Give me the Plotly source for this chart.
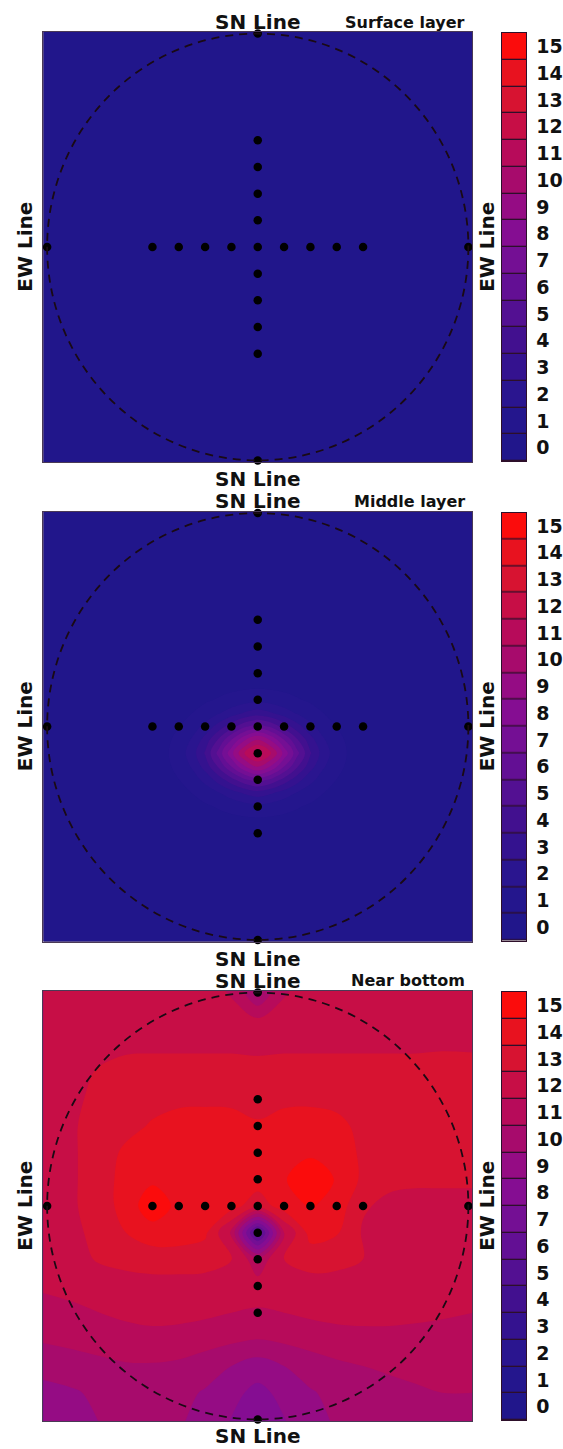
import plotly.graph_objects as go

# ---------------------------------------------------------------- data
# colour levels 0..15 (discrete legend)
levels = list(range(16))
level_colors = [
    "#21168b", "#24168d", "#2a158f", "#34128f", "#42108f", "#531092",
    "#630f94", "#740f94", "#850d92", "#950c84", "#a70b6c", "#b70b5a",
    "#c70e46", "#d71331", "#e8121f", "#fb0c0c",
]

# station layout along the two survey lines
arm_offsets = [-4, -3, -2, -1, 0, 1, 2, 3, 4]
rim_radius = 8

panel_titles = ["Surface layer", "Middle layer", "Near bottom"]

# surface layer: uniform field
surf_x = [-8.2, 8.2]
surf_y = [-8.2, 8.2]
surf_z = [[0, 0], [0, 0]]

# middle layer: a single local maximum just south of the crossing
# rows listed north (top) to south (bottom)
mid_x = [-8.2, -3.5, -3, -2.5, -2, -1.5, -1, -0.5, 0, 0.5, 1, 1.5, 2, 2.5, 3, 3.5, 8.2]
mid_y = [8.2, 1.5, 1, 0.5, 0, -0.5, -1, -1.5, -2, -2.5, -3, -3.5, -8.2]
mid_z = [
    [0, 0, 0, 0, 0, 0, 0, 0, 0, 0, 0, 0, 0, 0, 0, 0, 0],
    [0, 0.01, 0.03, 0.06, 0.11, 0.17, 0.25, 0.32, 0.36, 0.32, 0.25, 0.17, 0.11, 0.06, 0.03, 0.01, 0],
    [0, 0.04, 0.1, 0.2, 0.36, 0.58, 0.82, 1.06, 1.2, 1.06, 0.82, 0.58, 0.36, 0.2, 0.1, 0.04, 0],
    [0, 0.09, 0.24, 0.5, 0.9, 1.4, 2.0, 2.6, 3.0, 2.6, 2.0, 1.4, 0.9, 0.5, 0.24, 0.09, 0],
    [0, 0.18, 0.48, 1.0, 1.8, 2.9, 4.1, 5.3, 6.0, 5.3, 4.1, 2.9, 1.8, 1.0, 0.48, 0.18, 0],
    [0, 0.29, 0.77, 1.6, 2.9, 4.6, 6.5, 8.4, 9.6, 8.4, 6.5, 4.6, 2.9, 1.6, 0.77, 0.29, 0],
    [0, 0.36, 0.96, 2.0, 3.6, 5.8, 8.2, 10.6, 12.0, 10.6, 8.2, 5.8, 3.6, 2.0, 0.96, 0.36, 0],
    [0, 0.29, 0.77, 1.6, 2.9, 4.6, 6.5, 8.4, 9.6, 8.4, 6.5, 4.6, 2.9, 1.6, 0.77, 0.29, 0],
    [0, 0.18, 0.48, 1.0, 1.8, 2.9, 4.1, 5.3, 6.0, 5.3, 4.1, 2.9, 1.8, 1.0, 0.48, 0.18, 0],
    [0, 0.09, 0.24, 0.5, 0.9, 1.4, 2.0, 2.6, 3.0, 2.6, 2.0, 1.4, 0.9, 0.5, 0.24, 0.09, 0],
    [0, 0.04, 0.1, 0.2, 0.36, 0.58, 0.82, 1.06, 1.2, 1.06, 0.82, 0.58, 0.36, 0.2, 0.1, 0.04, 0],
    [0, 0.01, 0.03, 0.06, 0.11, 0.17, 0.25, 0.32, 0.36, 0.32, 0.25, 0.17, 0.11, 0.06, 0.03, 0.01, 0],
    [0, 0, 0, 0, 0, 0, 0, 0, 0, 0, 0, 0, 0, 0, 0, 0, 0],
]

# near bottom: gridded field, rows listed north (top) to south (bottom)
bot_x = [-8.2, -7, -6, -5, -4, -3, -2, -1, 0, 1, 2, 3, 4, 5, 6, 7, 8.2]
bot_y = [8.2, 7, 6, 5, 4, 3, 2, 1, 0, -1, -2, -3, -4, -5, -6, -7, -8.2]
bot_z = [
    [12, 12, 12, 12, 12, 12, 11.9, 11.3, 9.0, 11.3, 11.9, 12, 12, 12, 12, 12, 12],
    [12, 12, 12, 12, 12, 12, 12, 11.9, 11.6, 11.9, 12, 12, 12, 12, 12, 12, 12],
    [12, 12.1, 12.2, 12.3, 12.3, 12.3, 12.3, 12.3, 12.2, 12.3, 12.3, 12.3, 12.3, 12.3, 12.3, 12.4, 12.4],
    [12, 12.2, 12.6, 12.9, 13, 13, 13, 13, 13, 13, 13, 13, 13, 13, 13, 12.9, 12.8],
    [12, 12.3, 12.8, 13.1, 13.2, 13.3, 13.3, 13.3, 13.2, 13.3, 13.3, 13.2, 13.1, 13, 13, 12.9, 12.8],
    [12, 12.4, 13, 13.2, 13.6, 13.9, 14, 13.9, 13.6, 13.9, 14, 13.8, 13.2, 13.1, 13, 12.9, 12.8],
    [12, 12.4, 13, 13.7, 14, 14.1, 14.1, 14, 13.9, 14.1, 14.3, 14.1, 13.3, 13.1, 13, 12.9, 12.8],
    [12, 12.4, 13, 13.9, 14.3, 14.2, 14.1, 14, 14, 14.4, 15.3, 14.4, 13.3, 12.7, 12.65, 12.65, 12.6],
    [12, 12.4, 13, 13.9, 15.2, 14.2, 14, 13.9, 12.9, 14, 14.6, 14.1, 12.6, 12.3, 12.2, 12.2, 12.3],
    [12, 12.3, 12.8, 13.5, 14, 14, 13.7, 11.3, 4.5, 11.4, 13.9, 13.6, 12.4, 12.2, 12.1, 12.1, 12.2],
    [12, 12.2, 12.6, 12.8, 13, 13, 12.9, 12.6, 10.8, 12.5, 12.9, 12.8, 12.5, 12.2, 12.1, 12, 12],
    [11.6, 11.8, 12, 12.1, 12.1, 12.1, 12.1, 12, 11.9, 12, 12.1, 12.1, 12.1, 12, 12, 11.9, 11.9],
    [11.2, 11.3, 11.5, 11.7, 11.8, 11.8, 11.7, 11.5, 11.4, 11.5, 11.7, 11.8, 11.8, 11.8, 11.7, 11.6, 11.5],
    [10.6, 10.8, 11, 11.1, 11.2, 11.1, 10.9, 10.7, 10.5, 10.7, 10.9, 11.1, 11.2, 11.2, 11.2, 11.2, 11.1],
    [9.8, 10, 10.2, 10.4, 10.4, 10.3, 10, 9.5, 9.0, 9.5, 10, 10.3, 10.5, 10.6, 10.7, 10.7, 10.7],
    [9.2, 9.4, 9.7, 9.9, 10, 9.8, 9.4, 8.8, 8.2, 8.8, 9.4, 9.8, 10.1, 10.3, 10.4, 10.5, 10.5],
    [9.0, 9.2, 9.5, 9.7, 9.8, 9.6, 9.1, 8.4, 7.8, 8.4, 9.1, 9.6, 9.9, 10.1, 10.3, 10.4, 10.4],
]

fields = [
    (surf_x, surf_y, surf_z),
    (mid_x, mid_y, mid_z),
    (bot_x, bot_y, bot_z),
]

# ---------------------------------------------------------------- layout
W, H = 563, 1449
PANEL_L, PANEL_R = 44, 478
PANEL_H = 430
PANEL_TOPS = [32, 511.5, 991]
CBAR_L, CBAR_R = 508, 533
X_HALF, Y_HALF = 8.14, 8.06
FONT = "DejaVu Sans, Liberation Sans, Arial, sans-serif"

lo, hi = levels[0], levels[-1]
colorscale = [[(lv - lo) / (hi - lo), c] for lv, c in zip(levels, level_colors)]

# stations: EW line, SN line (without repeating the crossing) and rim points
st_x = list(arm_offsets) + [0 for a in arm_offsets if a != 0] + [-rim_radius, rim_radius, 0, 0]
st_y = [0 for _ in arm_offsets] + [a for a in arm_offsets if a != 0] + [0, 0, rim_radius, -rim_radius]


def px_x(p):
    return p / W


def px_y(p):
    return 1 - p / H


fig = go.Figure()
annotations = []
shapes = []

big = dict(family=FONT, size=20, color="#111", weight="bold")
small = dict(family=FONT, size=16, color="#111", weight="bold")

for i, ((fx, fy, fz), title) in enumerate(zip(fields, panel_titles)):
    n = i + 1
    xa, ya = f"x{n if n > 1 else ''}", f"y{n if n > 1 else ''}"
    cb = i + 4
    cxa, cya = f"x{cb}", f"y{cb}"
    top = PANEL_TOPS[i]

    fig.add_trace(go.Contour(
        x=fx, y=fy[::-1], z=fz[::-1],
        colorscale=colorscale, showscale=False,
        autocontour=False,
        contours=dict(start=lo + 0.5, end=hi - 0.5, size=1,
                      coloring="fill", showlines=False),
        line=dict(width=0), hoverinfo="skip",
        xaxis=xa, yaxis=ya,
    ))
    fig.add_trace(go.Scatter(
        x=st_x, y=st_y, mode="markers",
        marker=dict(size=8.5, color="black", line=dict(width=0)),
        cliponaxis=False, hoverinfo="skip",
        xaxis=xa, yaxis=ya,
    ))

    # discrete colour legend drawn as a one-column heatmap
    fig.add_trace(go.Heatmap(
        x=[0], y=levels, z=[[lv] for lv in levels],
        colorscale=colorscale, zmin=lo, zmax=hi, showscale=False,
        ygap=1.3, hoverinfo="skip",
        xaxis=cxa, yaxis=cya,
    ))

    dom_y = [px_y(top + PANEL_H), px_y(top)]
    fig.update_layout({
        f"xaxis{n if n > 1 else ''}": dict(
            domain=[px_x(PANEL_L), px_x(PANEL_R)], range=[-X_HALF, X_HALF],
            anchor=ya, showgrid=False, zeroline=False, showticklabels=False,
            ticks="", showline=True, mirror=True, linecolor="#4a3a55", linewidth=1,
            fixedrange=True,
        ),
        f"yaxis{n if n > 1 else ''}": dict(
            domain=dom_y, range=[-Y_HALF, Y_HALF],
            anchor=xa, showgrid=False, zeroline=False, showticklabels=False,
            ticks="", showline=True, mirror=True, linecolor="#4a3a55", linewidth=1,
            fixedrange=True,
        ),
        f"xaxis{cb}": dict(
            domain=[px_x(CBAR_L), px_x(CBAR_R)], range=[-0.5, 0.5],
            anchor=cya, showgrid=False, zeroline=False, showticklabels=False,
            ticks="", showline=True, mirror=True, linecolor="#2d0f2a", linewidth=1,
            fixedrange=True,
        ),
        f"yaxis{cb}": dict(
            domain=[px_y(top + PANEL_H - 1), px_y(top + 1)],
            range=[lo - 0.5, hi + 0.5], anchor=cxa, side="right",
            showgrid=False, zeroline=False, ticks="",
            tickvals=levels, ticktext=[str(lv) for lv in levels],
            tickfont=dict(family=FONT, size=19, color="#111", weight="bold"),
            ticklabelstandoff=5,
            showline=True, mirror=True, linecolor="#2d0f2a", linewidth=1,
            fixedrange=True,
        ),
    })

    # dashed outline of the survey circle
    shapes.append(dict(
        type="circle", xref=xa, yref=ya,
        x0=-rim_radius, y0=-rim_radius, x1=rim_radius, y1=rim_radius,
        line=dict(color="#1a0a14", width=1.8, dash="8px,6px"),
    ))

    cx = (PANEL_L + PANEL_R) / 2
    below = 17 if i < 2 else 15
    annotations += [
        dict(text="SN Line", x=px_x(cx), y=px_y(top - 10), font=big,
             xanchor="center", yanchor="middle"),
        dict(text="SN Line", x=px_x(cx), y=px_y(top + PANEL_H + below), font=big,
             xanchor="center", yanchor="middle"),
        dict(text=title, x=px_x(PANEL_R - 5), y=px_y(top - 10), font=small,
             xanchor="right", yanchor="middle"),
        dict(text="EW Line", x=px_x(25), y=px_y(top + PANEL_H / 2), font=big,
             textangle=-90, xanchor="center", yanchor="middle"),
        dict(text="EW Line", x=px_x(493), y=px_y(top + PANEL_H / 2), font=big,
             textangle=-90, xanchor="center", yanchor="middle"),
    ]

for a in annotations:
    a.update(xref="paper", yref="paper", showarrow=False)

fig.update_layout(
    width=W, height=H,
    margin=dict(l=0, r=0, t=0, b=0),
    paper_bgcolor="white", plot_bgcolor="#2d0f2a",
    showlegend=False,
    annotations=annotations, shapes=shapes,
)

fig.write_html("out.html", config={"displayModeBar": False})
